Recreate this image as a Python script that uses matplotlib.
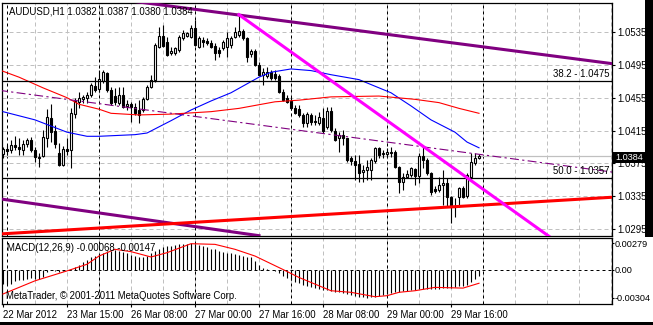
import matplotlib
matplotlib.use("Agg")
import matplotlib.pyplot as plt
import numpy as np
from matplotlib.patches import Rectangle

plt.rcParams['font.family'] = ['Liberation Sans', 'DejaVu Sans']
FS = 6.9

# AUDUSD H1, one bar per hour from 22 Mar 23:00 to 29 Mar 23:00
opens = [1.0386, 1.0393, 1.0391, 1.0397, 1.0395, 1.0391, 1.0399, 1.0403, 1.0391, 1.0383,
         1.0384, 1.0406, 1.0430, 1.0414, 1.0388, 1.0373, 1.0393, 1.0391, 1.0435, 1.0450,
         1.0453, 1.0455, 1.0458, 1.0469, 1.0466, 1.0475, 1.0485, 1.0464, 1.0457, 1.0449,
         1.0458, 1.0445, 1.0447, 1.0444, 1.0440, 1.0440, 1.0453, 1.0468, 1.0477, 1.0517,
         1.0530, 1.0523, 1.0509, 1.0509, 1.0513, 1.0528, 1.0530, 1.0529, 1.0540, 1.0517,
         1.0525, 1.0524, 1.0522, 1.0518, 1.0513, 1.0516, 1.0517, 1.0519, 1.0529, 1.0531,
         1.0536, 1.0528, 1.0508, 1.0512, 1.0495, 1.0483, 1.0481, 1.0486, 1.0484, 1.0481,
         1.0462, 1.0455, 1.0451, 1.0442, 1.0441, 1.0434, 1.0424, 1.0434, 1.0427, 1.0424,
         1.0430, 1.0419, 1.0439, 1.0414, 1.0406, 1.0410, 1.0406, 1.0382, 1.0378, 1.0374,
         1.0364, 1.0367, 1.0367, 1.0378, 1.0394, 1.0386, 1.0386, 1.0388, 1.0389, 1.0371,
         1.0352, 1.0358, 1.0361, 1.0368, 1.0360, 1.0384, 1.0379, 1.0363, 1.0344, 1.0343,
         1.0349, 1.0351, 1.0334, 1.0323, 1.0334, 1.0345, 1.0335, 1.0358, 1.0375, 1.0382]
highs = [1.0395, 1.0397, 1.0403, 1.0408, 1.0406, 1.0403, 1.0406, 1.0407, 1.0395, 1.0388,
         1.0416, 1.0441, 1.0447, 1.0422, 1.0400, 1.0396, 1.0406, 1.0442, 1.0455, 1.0462,
         1.0458, 1.0462, 1.0473, 1.0480, 1.0489, 1.0489, 1.0486, 1.0468, 1.0467, 1.0468,
         1.0468, 1.0452, 1.0450, 1.0449, 1.0452, 1.0456, 1.0470, 1.0483, 1.0522, 1.0541,
         1.0544, 1.0529, 1.0517, 1.0517, 1.0531, 1.0537, 1.0535, 1.0544, 1.0550, 1.0530,
         1.0529, 1.0528, 1.0525, 1.0522, 1.0517, 1.0525, 1.0535, 1.0530, 1.0541, 1.0556,
         1.0539, 1.0529, 1.0514, 1.0514, 1.0498, 1.0491, 1.0492, 1.0489, 1.0489, 1.0484,
         1.0466, 1.0458, 1.0456, 1.0446, 1.0446, 1.0436, 1.0438, 1.0436, 1.0434, 1.0438,
         1.0442, 1.0444, 1.0444, 1.0418, 1.0413, 1.0416, 1.0406, 1.0384, 1.0385, 1.0385,
         1.0373, 1.0379, 1.0382, 1.0395, 1.0395, 1.0391, 1.0394, 1.0395, 1.0391, 1.0372,
         1.0363, 1.0367, 1.0371, 1.0369, 1.0388, 1.0395, 1.0382, 1.0364, 1.0347, 1.0358,
         1.0367, 1.0357, 1.0335, 1.0333, 1.0346, 1.0347, 1.0363, 1.0388, 1.0388, 1.0387]
lows = [1.0382, 1.0385, 1.0388, 1.0391, 1.0385, 1.0385, 1.0395, 1.0389, 1.0377, 1.0371,
        1.0383, 1.0395, 1.0401, 1.0394, 1.0372, 1.0372, 1.0385, 1.0369, 1.0430, 1.0442,
        1.0449, 1.0449, 1.0456, 1.0462, 1.0462, 1.0473, 1.0462, 1.0446, 1.0446, 1.0446,
        1.0442, 1.0440, 1.0425, 1.0434, 1.0424, 1.0438, 1.0452, 1.0467, 1.0474, 1.0516,
        1.0517, 1.0506, 1.0507, 1.0507, 1.0511, 1.0525, 1.0529, 1.0528, 1.0518, 1.0516,
        1.0517, 1.0519, 1.0516, 1.0501, 1.0505, 1.0513, 1.0505, 1.0516, 1.0528, 1.0529,
        1.0525, 1.0498, 1.0505, 1.0494, 1.0481, 1.0470, 1.0479, 1.0477, 1.0477, 1.0461,
        1.0451, 1.0449, 1.0440, 1.0435, 1.0431, 1.0419, 1.0419, 1.0422, 1.0422, 1.0422,
        1.0412, 1.0417, 1.0413, 1.0402, 1.0389, 1.0397, 1.0377, 1.0373, 1.0355, 1.0352,
        1.0352, 1.0355, 1.0355, 1.0375, 1.0382, 1.0382, 1.0383, 1.0383, 1.0369, 1.0339,
        1.0343, 1.0357, 1.0358, 1.0349, 1.0351, 1.0369, 1.0361, 1.0336, 1.0339, 1.0340,
        1.0324, 1.0322, 1.0302, 1.0310, 1.0322, 1.0333, 1.0333, 1.0355, 1.0373, 1.0380]
closes = [1.0393, 1.0390, 1.0397, 1.0395, 1.0393, 1.0399, 1.0403, 1.0391, 1.0383, 1.0382,
          1.0407, 1.0431, 1.0413, 1.0399, 1.0373, 1.0393, 1.0390, 1.0436, 1.0451, 1.0455,
          1.0456, 1.0458, 1.0470, 1.0464, 1.0478, 1.0486, 1.0464, 1.0449, 1.0450, 1.0458,
          1.0444, 1.0447, 1.0444, 1.0436, 1.0434, 1.0453, 1.0468, 1.0477, 1.0519, 1.0530,
          1.0518, 1.0507, 1.0512, 1.0516, 1.0529, 1.0534, 1.0534, 1.0540, 1.0519, 1.0528,
          1.0523, 1.0522, 1.0517, 1.0509, 1.0509, 1.0523, 1.0528, 1.0528, 1.0535, 1.0536,
          1.0528, 1.0505, 1.0512, 1.0495, 1.0483, 1.0486, 1.0486, 1.0479, 1.0479, 1.0462,
          1.0452, 1.0450, 1.0442, 1.0436, 1.0434, 1.0424, 1.0435, 1.0425, 1.0425, 1.0431,
          1.0414, 1.0439, 1.0416, 1.0403, 1.0410, 1.0406, 1.0379, 1.0378, 1.0373, 1.0363,
          1.0367, 1.0371, 1.0379, 1.0394, 1.0385, 1.0388, 1.0389, 1.0389, 1.0371, 1.0352,
          1.0358, 1.0362, 1.0369, 1.0360, 1.0384, 1.0379, 1.0363, 1.0340, 1.0341, 1.0349,
          1.0351, 1.0334, 1.0322, 1.0322, 1.0345, 1.0334, 1.0361, 1.0377, 1.0382, 1.0384]

# moving averages read at a few bars
blue_x = [0, 8, 16, 21, 24, 33, 36, 42, 47, 52, 57, 64, 67, 72, 77, 82, 89, 97, 102, 107, 113, 116, 119]
blue_y = [1.0438, 1.0428, 1.0413, 1.0408, 1.0408, 1.0410, 1.0412, 1.0427, 1.0440, 1.0451, 1.0461,
          1.0480, 1.0486, 1.0490, 1.0488, 1.0483, 1.0477, 1.0461, 1.0445, 1.0428, 1.0413, 1.0401, 1.0394]
red_x = [-1, 4, 10, 16, 19, 24, 27, 34, 42, 52, 59, 68, 74, 82, 94, 103, 109, 114, 119]
red_y = [1.0489, 1.0480, 1.0467, 1.0455, 1.0447, 1.0441, 1.0436, 1.0434, 1.0435, 1.0438,
         1.0442, 1.0450, 1.0452, 1.0456, 1.0457, 1.0453, 1.0449, 1.0442, 1.0436]

# trend lines (two anchor points each)
chan_top_x, chan_top_y = [30, 153], [1.0574, 1.0496]
chan_bot_x, chan_bot_y = [-1, 64], [1.0332, 1.0287]
support_x, support_y = [-1, 153], [1.0289, 1.0334]
magenta_x, magenta_y = [59, 138], [1.0556, 1.0281]
dashed_x, dashed_y = [-1, 153], [1.0464, 1.0364]
fibo_levels = [1.0475, 1.0357]
fibo_names = ['38.2 - 1.0475', '50.0 - 1.0357']
bid = 1.0384

# MACD(12,26,9)
macd_hist = [-0.00160, -0.00160, -0.00153, -0.00126, -0.00116, -0.00109, -0.00099, -0.00092, -0.00099, -0.00102,
             -0.00075, -0.00031, -0.00010, -0.00014, -0.00024, -0.00017, -0.00007, 0.00010, 0.00027, 0.00051,
             0.00078, 0.00105, 0.00129, 0.00146, 0.00163, 0.00180, 0.00194, 0.00201, 0.00207, 0.00201,
             0.00187, 0.00173, 0.00160, 0.00146, 0.00139, 0.00139, 0.00146, 0.00173, 0.00197, 0.00221,
             0.00238, 0.00248, 0.00255, 0.00262, 0.00268, 0.00272, 0.00277, 0.00279, 0.00275, 0.00265,
             0.00248, 0.00238, 0.00221, 0.00214, 0.00197, 0.00187, 0.00180, 0.00173, 0.00163, 0.00156,
             0.00146, 0.00139, 0.00129, 0.00095, 0.00044, 0.00017, 0.00003, -0.00003, -0.00017, -0.00041,
             -0.00065, -0.00092, -0.00112, -0.00129, -0.00146, -0.00163, -0.00177, -0.00184, -0.00194, -0.00204,
             -0.00214, -0.00221, -0.00228, -0.00238, -0.00245, -0.00255, -0.00265, -0.00275, -0.00282, -0.00289,
             -0.00296, -0.00304, -0.00299, -0.00292, -0.00282, -0.00272, -0.00262, -0.00252, -0.00245, -0.00241,
             -0.00235, -0.00228, -0.00221, -0.00218, -0.00211, -0.00207, -0.00207, -0.00211, -0.00211, -0.00207,
             -0.00201, -0.00194, -0.00194, -0.00187, -0.00180, -0.00177, -0.00167, -0.00133, -0.00099, -0.00068]
signal_x = [0, 8, 16, 21, 24, 28, 32, 37, 41, 47, 53, 58, 63, 70, 74, 79, 82, 87, 93, 96, 99, 103, 108, 115, 119]
signal_y = [-0.00262, -0.00121, -0.00015, 0.00056, 0.00144, 0.00216, 0.00191, 0.00134, 0.00180, 0.00276,
            0.00269, 0.00216, 0.00144, 0.00000, -0.00085, -0.00174, -0.00227, -0.00244, -0.00291, -0.00280,
            -0.00244, -0.00227, -0.00191, -0.00199, -0.00147]

price_ticks = [1.0535, 1.0495, 1.0455, 1.0415, 1.0375, 1.0335, 1.0295]
time_pos = [0, 16, 32, 48, 64, 80, 96, 112]
time_labels = ['22 Mar 2012', '23 Mar 15:00', '26 Mar 08:00', '27 Mar 00:00',
               '27 Mar 16:00', '28 Mar 08:00', '29 Mar 00:00', '29 Mar 16:00']
day_starts = [1, 24, 48, 72, 96, 120]

W, H = 653, 325


def box(x0, y0, x1, y1):  # pixel box -> figure rect
    return [x0 / W, 1 - y1 / H, (x1 - x0) / W, (y1 - y0) / H]


fig = plt.figure(figsize=(W / 100, H / 100), dpi=100)
fig.patch.set_facecolor('white')
ax = fig.add_axes(box(2, 3, 612, 236))
mx = fig.add_axes(box(2, 238, 612, 304))

xlim = (-0.25, 152.25)
for a in (ax, mx):
    a.set_xlim(*xlim)
    for s in a.spines.values():
        s.set_linewidth(0.9)
        s.set_color('black')
    # grid every 8 bars and day separators
    for g in range(8, 153, 8):
        a.axvline(g, color='#c0c0c0', lw=0.72, ls=(0, (4, 3)), zorder=0)
    for d in day_starts:
        a.axvline(d, color='black', lw=0.72, ls=(0, (3, 3)), zorder=1)

ax.set_ylim(1.02866, 1.05703)
for p in price_ticks:
    ax.axhline(p, color='#c0c0c0', lw=0.72, ls=(0, (4, 3)), zorder=0)
ax.axhline(bid, color='#c0c0c0', lw=0.9, zorder=1)

x = np.arange(len(opens))
o, h, l, c = map(np.array, (opens, highs, lows, closes))
ax.vlines(x, l, h, color='black', lw=0.8, zorder=3)
up = c >= o
ax.bar(x, np.abs(c - o), bottom=np.minimum(o, c), width=0.55,
       color=np.where(up, 'white', 'black'), edgecolor='black', linewidth=0.8, zorder=4)

ax.plot(blue_x, blue_y, color='#0000ff', lw=0.8, zorder=5)
ax.plot(red_x, red_y, color='#ff0000', lw=0.8, zorder=5)
ax.plot(dashed_x, dashed_y, color='#800080', lw=0.8, ls=(0, (8, 3, 2, 3)), zorder=5)
ax.plot(chan_top_x, chan_top_y, color='#800080', lw=2.2, zorder=6)
ax.plot(chan_bot_x, chan_bot_y, color='#800080', lw=2.2, zorder=6)
ax.plot(support_x, support_y, color='#ff0000', lw=2.2, zorder=6)
ax.plot(magenta_x, magenta_y, color='#ff00ff', lw=2.2, zorder=6)
for lv, nm in zip(fibo_levels, fibo_names):
    ax.axhline(lv, color='black', lw=0.9, zorder=5)
    ax.text(151.6, lv + 0.00022, nm, ha='right', va='bottom', fontsize=FS, zorder=7)

ax.yaxis.tick_right()
ax.set_yticks(price_ticks)
ax.set_yticklabels(['%.4f' % p for p in price_ticks])
ax.tick_params(axis='y', length=2.5, width=0.8, pad=1.5, labelsize=FS)
ax.set_xticks([])

ax.text(0.011, 0.985, 'AUDUSD,H1 %.4f %.4f %.4f %.4f' % (opens[-1], highs[-1], lows[-1], closes[-1]),
        transform=ax.transAxes, ha='left', va='top', fontsize=FS, zorder=8)

# MACD panel
mx.set_ylim(-0.00369, 0.00337)
mx.axhline(0, color='black', lw=0.72, ls=(0, (3, 3)), zorder=1)
mx.vlines(x, 0, macd_hist, color='black', lw=0.8, zorder=3)
mx.plot(signal_x, signal_y, color='#ff0000', lw=0.8, zorder=4)
mx.yaxis.tick_right()
mx.set_yticks([0.00279, 0.0, -0.00304])
mx.set_yticklabels(['0.00279', '0.00', '-0.00304'])
mx.tick_params(axis='y', length=1.5, width=0.8, pad=0.6, labelsize=6.6)
mx.set_xticks(time_pos)
mx.set_xticklabels(time_labels, ha='left')
mx.tick_params(axis='x', length=2.5, width=0.8, pad=2.0, labelsize=FS)
mx.text(0.009, 0.93, 'MACD(12,26,9) %.5f %.5f' % (macd_hist[-1], signal_y[-1]),
        transform=mx.transAxes, ha='left', va='top', fontsize=FS, zorder=8)
mx.text(0.006, 0.04, 'MetaTrader, \u00a9 2001-2011 MetaQuotes Software Corp.',
        transform=mx.transAxes, ha='left', va='bottom', fontsize=FS, zorder=8)

# current price tag on the price scale
fig.patches.append(Rectangle((613 / W, 1 - 162.5 / H), 33 / W, 11 / H, transform=fig.transFigure,
                             facecolor='black', edgecolor='none', zorder=10))
fig.text(615 / W, 1 - 157 / H, '%.4f' % bid, color='white', fontsize=6.6, va='center', ha='left', zorder=11)

# dark frame right (price window only) and bottom
fig.patches.append(Rectangle((645 / W, 1 - 237 / H), 8 / W, 237 / H, transform=fig.transFigure,
                             facecolor='black', edgecolor='none', zorder=12))
fig.patches.append(Rectangle((0, 0), 1, 3 / H, transform=fig.transFigure,
                             facecolor='black', edgecolor='none', zorder=12))

fig.savefig('out.png', dpi=100)
